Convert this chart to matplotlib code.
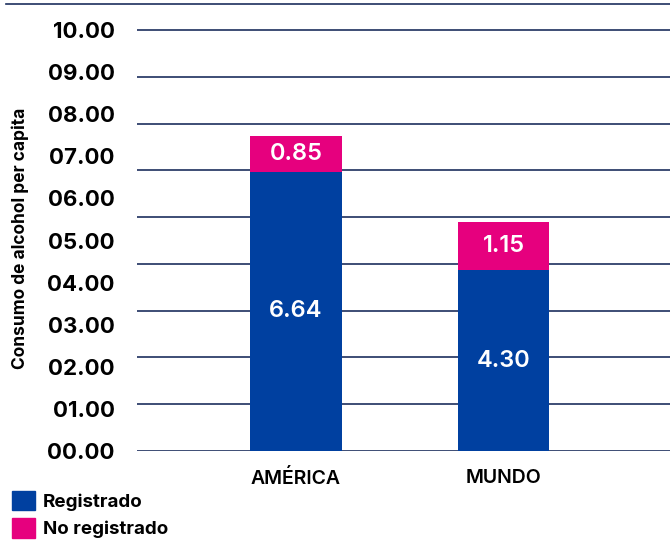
import numpy as np
import matplotlib
matplotlib.use('Agg')
import matplotlib.pyplot as plt
from matplotlib.patches import Patch
from matplotlib.lines import Line2D

plt.rcParams['font.family'] = ['Inter', 'DejaVu Sans']

# data
categories = ['AMÉRICA', 'MUNDO']
registrado = [6.64, 4.30]
no_registrado = [0.85, 1.15]
tick_values = list(range(0, 11))
tick_labels = ['%05.2f' % v for v in tick_values]

BLUE = '#0040a0'
PINK = '#e6007e'
NAVY = '#1c2f5e'

fig = plt.figure(figsize=(6.7, 5.4), dpi=100)
ax = fig.add_axes([137 / 670, 89 / 540, 533 / 670, 447 / 540])

x = np.arange(len(categories))
width = 0.44
b1 = ax.bar(x, registrado, width, color=BLUE, zorder=3)
b2 = ax.bar(x, no_registrado, width, bottom=registrado, color=PINK, zorder=3)

for bars, vals in ((b1, registrado), (b2, no_registrado)):
    for rect, v in zip(bars, vals):
        ax.text(rect.get_x() + rect.get_width() / 2, rect.get_y() + rect.get_height() / 2,
                '%.2f' % v, ha='center', va='center', color='white',
                fontsize=17, fontweight='semibold', zorder=4)

# gridlines (the original has 10 lines spread over the 0-10 range)
for g in np.linspace(0, 10, 10):
    ax.axhline(g, color=NAVY, lw=1.2, zorder=1)

ax.set_ylim(0, 10.62)
ax.set_xlim(-0.766, 1.802)
ax.set_yticks(tick_values)
ax.set_yticklabels(tick_labels, fontsize=16, fontweight='bold')
ax.tick_params(axis='y', length=0, pad=16)
ax.set_xticks(x)
ax.set_xticklabels(categories, fontsize=14, fontweight='semibold')
ax.tick_params(axis='x', length=0, pad=13)
for s in ax.spines.values():
    s.set_visible(False)

fig.text(20 / 670, 1 - 238 / 540, 'Consumo de alcohol per capita', rotation=90,
         ha='center', va='center', fontsize=12.5, fontweight='bold')

# top rule
fig.add_artist(Line2D([6 / 670, 1], [1 - 4 / 540, 1 - 4 / 540], color=NAVY, lw=1.2))

handles = [Patch(color=BLUE, label='Registrado'), Patch(color=PINK, label='No registrado')]
fig.legend(handles=handles, loc='upper left', bbox_to_anchor=(12 / 670, 1 - 491 / 540),
           frameon=False, prop={'weight': 'bold', 'size': 13.5},
           handlelength=1.2, handleheight=1.2, labelspacing=0.4, handletextpad=0.45,
           borderpad=0, borderaxespad=0)

fig.savefig('out.png', dpi=100)
